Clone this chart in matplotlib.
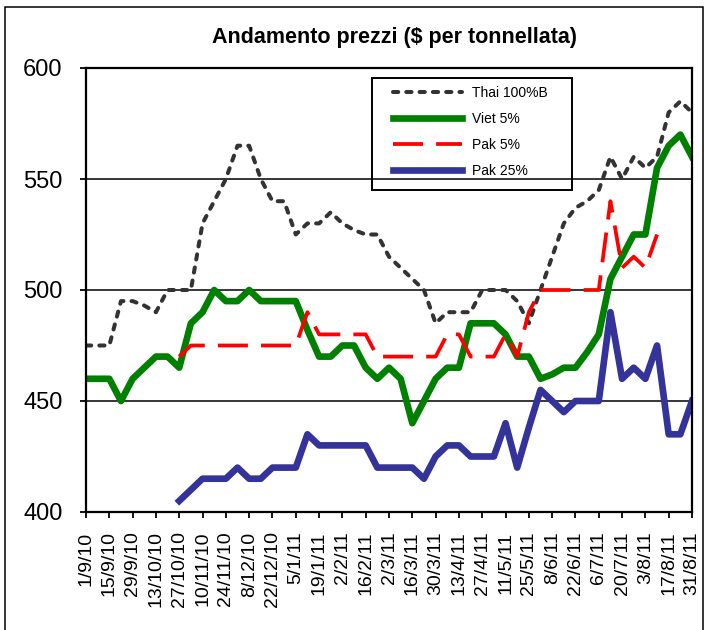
import numpy as np
import matplotlib
matplotlib.use("Agg")
import matplotlib.pyplot as plt
from matplotlib.patches import Rectangle

plt.rcParams['font.family'] = ['Liberation Sans', 'DejaVu Sans']

nan = np.nan

# weekly dates, 1/9/10 .. 31/8/11
weeks = [
    "1/9/10", "8/9/10", "15/9/10", "22/9/10", "29/9/10", "6/10/10", "13/10/10",
    "20/10/10", "27/10/10", "3/11/10", "10/11/10", "17/11/10", "24/11/10",
    "1/12/10", "8/12/10", "15/12/10", "22/12/10", "29/12/10", "5/1/11",
    "12/1/11", "19/1/11", "26/1/11", "2/2/11", "9/2/11", "16/2/11", "23/2/11",
    "2/3/11", "9/3/11", "16/3/11", "23/3/11", "30/3/11", "6/4/11", "13/4/11",
    "20/4/11", "27/4/11", "4/5/11", "11/5/11", "18/5/11", "25/5/11", "1/6/11",
    "8/6/11", "15/6/11", "22/6/11", "29/6/11", "6/7/11", "13/7/11", "20/7/11",
    "27/7/11", "3/8/11", "10/8/11", "17/8/11", "24/8/11", "31/8/11",
]

thai = [475, 475, 475, 495, 495, 493, 490, 500, 500, 500, 530, 540, 550,
        565, 565, 550, 540, 540, 525, 530, 530, 535, 530, 527, 525, 525,
        515, 510, 505, 500, 485, 490, 490, 490, 500, 500, 500, 495, 485,
        500, 515, 530, 537, 540, 545, 560, 550, 560, 555, 560, 580, 585, 580]

viet = [460, 460, 460, 450, 460, 465, 470, 470, 465, 485, 490, 500, 495,
        495, 500, 495, 495, 495, 495, 482, 470, 470, 475, 475, 465, 460,
        465, 460, 440, 450, 460, 465, 465, 485, 485, 485, 480, 470, 470,
        460, 462, 465, 465, 472, 480, 505, 515, 525, 525, 555, 565, 570, 560]

pak5 = [nan, nan, nan, nan, nan, nan, nan, nan, 470, 475, 475, 475, 475,
        475, 475, 475, 475, 475, 475, 490, 480, 480, 480, 480, 480, 470,
        470, 470, 470, 470, 470, 480, 480, 470, 470, 470, 480, 470, 490,
        500, 500, 500, 500, 500, 500, 540, 510, 515, 510, 525, nan, nan, nan]

pak25 = [nan, nan, nan, nan, nan, nan, nan, nan, 405, 410, 415, 415, 415,
         420, 415, 415, 420, 420, 420, 435, 430, 430, 430, 430, 430, 420,
         420, 420, 420, 415, 425, 430, 430, 425, 425, 425, 440, 420, 438,
         455, 450, 445, 450, 450, 450, 490, 460, 465, 460, 475, 435, 435, 450]

yticks = [400, 450, 500, 550, 600]

W, H = 706, 630
fig = plt.figure(figsize=(W / 100, H / 100), dpi=100)
ax = fig.add_axes([86 / W, 1 - 512 / H, 606 / W, 444 / H])

x = np.arange(len(weeks))
ax.plot(x, thai, color='#333333', lw=2.9, dashes=(1.3, 2.0),
        dash_capstyle='round', label='Thai 100%B')
ax.plot(x, viet, color='#008000', lw=4.8, label='Viet 5%')
ax.plot(x, pak5, color='#ff0000', lw=2.7, dashes=(8, 3.5), label='Pak 5%')
ax.plot(x, pak25, color='#333399', lw=4.8, label='Pak 25%')

ax.set_xlim(0, len(weeks) - 1)
ax.set_ylim(400, 600)
ax.set_yticks(yticks)
ax.set_yticklabels([str(v) for v in yticks])
ax.set_xticks(x[::2])
ax.set_xticklabels(weeks[::2], rotation=90)

ax.tick_params(axis='y', labelsize=17, length=4, width=1.3, pad=13, direction='out')
ax.tick_params(axis='x', labelsize=14, length=4, width=1.3, pad=10, direction='out')

ax.yaxis.grid(True, color='black', lw=1.1)
ax.set_axisbelow(True)
for s in ax.spines.values():
    s.set_linewidth(1.6)
    s.set_color('black')

leg = ax.legend(loc='upper left', bbox_to_anchor=(393 / W, 1 - 86 / H),
                bbox_transform=fig.transFigure, frameon=False, fontsize=10,
                handlelength=5.0, handletextpad=0.7, labelspacing=0.86,
                borderpad=0, borderaxespad=0)
fig.add_artist(Rectangle((372 / W, 1 - 190 / H), 200 / W, 112 / H,
                         transform=fig.transFigure, fill=False,
                         lw=1.4, ec='black', zorder=5))

fig.text(394 / W, 1 - 37 / H, r'Andamento prezzi (\$ per tonnellata)',
         ha='center', va='center', fontsize=15.5, fontweight='bold')

# outer frame of the chart
fig.add_artist(Rectangle((5 / W, -0.05), 698 / W, 1.05 - 7 / H,
                         transform=fig.transFigure, fill=False,
                         lw=1.1, ec='black', clip_on=False))

fig.savefig('out.png', dpi=100)
